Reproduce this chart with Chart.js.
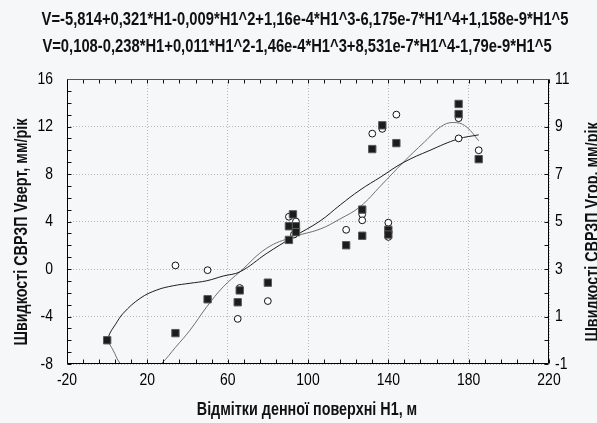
<!DOCTYPE html>
<html>
<head>
<meta charset="utf-8">
<script src="https://cdn.jsdelivr.net/npm/chart.js@4.4.1/dist/chart.umd.min.js"></script>
<style>
  html, body { margin: 0; padding: 0; background: #f5f7f9; }
</style>
</head>
<body>
<canvas id="chartCanvas" width="597" height="423"></canvas>
<script>
// Швидкості СВРЗП проти відміток денної поверхні H1

// Vверт (ліва вісь) – чорні квадрати
const vertX = [0, 34, 50, 65, 66, 80, 90.5, 90.5, 92.5, 94, 94, 119, 127, 127, 140, 140, 132, 137, 144, 175, 175, 185];
const vertY = [-6.0, -5.4, -2.55, -2.8, -1.8, -1.15, 3.6, 2.45, 4.6, 3.6, 3.1, 2.0, 2.8, 5.0, 3.3, 2.9, 10.1, 12.1, 10.6, 13.9, 13.05, 9.25];

// Vгор (права вісь) – порожні кружки
const horX = [0, 34, 50, 65, 66, 80, 90.5, 94, 93, 119, 127, 127, 140, 140, 132, 137, 144, 175, 175, 185];
const horY = [0.0, 3.15, 2.95, 0.9, 2.2, 1.65, 5.2, 5.0, 4.45, 4.65, 5.3, 5.05, 4.95, 4.35, 8.7, 8.9, 9.5, 9.35, 8.5, 8.0];

// Апроксимуючі криві
const fitVertX = [0, 1.4, 4, 8, 16.4, 24.7, 32.9, 41.3, 49.6, 57.8, 66.2, 79.5, 92.5, 106, 116, 125.9, 136.4, 147.3, 160.8, 174.7, 185];
const fitVertY = [-6.0, -5.4, -4.7, -3.73, -2.47, -1.77, -1.41, -1.2, -0.99, -0.59, -0.23, 1.32, 2.69, 4.04, 5.39, 6.65, 7.77, 8.95, 10.0, 10.95, 11.3];
const fitHorX = [0, 2.9, 6.4, 12, 17, 22, 27.2, 34, 41.3, 49.6, 57.8, 66.2, 79.5, 92.5, 106, 116, 125.9, 136.4, 147.3, 158, 167.4, 174.1, 179.1, 185];
const fitHorY = [0.0, -0.41, -0.97, -1.4, -1.5, -1.3, -0.97, -0.3, 0.43, 1.41, 2.25, 2.89, 3.88, 4.35, 4.68, 5.11, 5.62, 6.52, 7.48, 8.35, 9.06, 9.16, 8.97, 8.4];

// Поділки осей
const xTickValues = [-20, 20, 60, 100, 140, 180, 220];
const yLeftTickValues = [-8, -4, 0, 4, 8, 12, 16];
const yRightTickValues = [-1, 1, 3, 5, 7, 9, 11];

const eqVert = 'V=-5,814+0,321*H1-0,009*H1^2+1,16e-4*H1^3-6,175e-7*H1^4+1,158e-9*H1^5';
const eqHor = 'V=0,108-0,238*H1+0,011*H1^2-1,46e-4*H1^3+8,531e-7*H1^4-1,79e-9*H1^5';
const xTitle = 'Відмітки денної поверхні H1, м';
const yLeftTitle = 'Швидкості СВРЗП Vверт, мм/рік';
const yRightTitle = 'Швидкості СВРЗП Vгор, мм/рік';

const BG = '#f5f7f9';
const FAMILY = "'Liberation Sans', Arial, sans-serif";
const SQUEEZE = 0.82; // стиснення як у Arial Narrow

const toPoints = (xs, ys) => xs.map((x, i) => ({ x: x, y: ys[i] }));
const fixTicks = (values) => (scale) => { scale.ticks = values.map(v => ({ value: v })); };

// вузький текст: звичайний шрифт, стиснутий по горизонталі
function narrowText(ctx, text, x, y, font, align, angle) {
  ctx.save();
  ctx.font = font;
  ctx.textAlign = align;
  ctx.textBaseline = 'middle';
  ctx.translate(x, y);
  if (angle) ctx.rotate(angle);
  ctx.scale(SQUEEZE, 1);
  ctx.fillText(text, 0, 0);
  ctx.restore();
}

// фон, рамка, внутрішні поділки і підписи
const framePlugin = {
  id: 'frame',
  beforeDraw(chart) {
    const ctx = chart.ctx;
    ctx.save();
    ctx.fillStyle = BG;
    ctx.fillRect(0, 0, chart.width, chart.height);
    ctx.restore();
  },
  afterDatasetsDraw(chart) {
    const { ctx, chartArea: a, scales } = chart;
    const L = Math.round(a.left) + 0.5, R = Math.round(a.right) - 0.5;
    const T = Math.round(a.top) + 0.5, B = Math.round(a.bottom) - 0.5;
    ctx.save();
    ctx.lineWidth = 1;
    ctx.strokeStyle = '#111';
    ctx.beginPath();
    for (let v = -20; v <= 220; v += 8) {
      const p = Math.round(scales.x.getPixelForValue(v)) + 0.5;
      ctx.moveTo(p, B); ctx.lineTo(p, B - 4);
      ctx.moveTo(p, T); ctx.lineTo(p, T + 4);
    }
    for (let v = -8; v <= 16; v += 1) {
      const p = Math.round(scales.y.getPixelForValue(v)) + 0.5;
      ctx.moveTo(L, p); ctx.lineTo(L + 4, p);
    }
    for (let v = -1; v <= 11; v += 1) {
      const p = Math.round(scales.y1.getPixelForValue(v)) + 0.5;
      ctx.moveTo(R, p); ctx.lineTo(R - 4, p);
    }
    ctx.stroke();
    ctx.strokeStyle = '#000';
    ctx.beginPath();
    ctx.moveTo(L, T); ctx.lineTo(L, B); ctx.lineTo(R, B); ctx.lineTo(R, T);
    ctx.stroke();
    ctx.strokeStyle = '#555';
    ctx.beginPath();
    ctx.moveTo(L, T); ctx.lineTo(R, T);
    ctx.stroke();
    ctx.restore();
  },
  afterDraw(chart) {
    const { ctx, chartArea: a, scales } = chart;
    ctx.save();
    ctx.fillStyle = '#000';
    const tickFont = '17px ' + FAMILY;
    xTickValues.forEach(v => narrowText(ctx, String(v), scales.x.getPixelForValue(v), a.bottom + 16, tickFont, 'center'));
    yLeftTickValues.forEach(v => narrowText(ctx, String(v), a.left - 14, scales.y.getPixelForValue(v), tickFont, 'right'));
    yRightTickValues.forEach(v => narrowText(ctx, String(v), a.right + 6, scales.y1.getPixelForValue(v), tickFont, 'left'));

    ctx.fillStyle = '#111';
    const eqFont = 'bold 18px ' + FAMILY;
    narrowText(ctx, eqVert, 305, 20, eqFont, 'center');
    narrowText(ctx, eqHor, 297, 47, eqFont, 'center');
    const axFont = 'bold 17.5px ' + FAMILY;
    narrowText(ctx, xTitle, 307, 410, axFont, 'center');
    narrowText(ctx, yLeftTitle, 22, 232, axFont, 'center', -Math.PI / 2);
    narrowText(ctx, yRightTitle, 593, 232, axFont, 'center', -Math.PI / 2);
    ctx.restore();
  }
};

new Chart(document.getElementById('chartCanvas'), {
  type: 'scatter',
  data: {
    datasets: [
      {
        label: 'Vверт',
        data: toPoints(vertX, vertY),
        yAxisID: 'y',
        pointStyle: 'rect',
        pointRadius: 5.2,
        backgroundColor: '#1c1c1c',
        borderColor: '#5a5a5a',
        borderWidth: 1
      },
      {
        label: 'Vгор',
        data: toPoints(horX, horY),
        yAxisID: 'y1',
        pointStyle: 'circle',
        pointRadius: 3.4,
        backgroundColor: '#ffffff',
        borderColor: '#111111',
        borderWidth: 1
      },
      {
        type: 'line',
        label: 'fit Vверт',
        data: toPoints(fitVertX, fitVertY),
        yAxisID: 'y',
        borderColor: '#1e1e1e',
        borderWidth: 1,
        pointRadius: 0,
        tension: 0.4,
        fill: false
      },
      {
        type: 'line',
        label: 'fit Vгор',
        data: toPoints(fitHorX, fitHorY),
        yAxisID: 'y1',
        borderColor: '#707070',
        borderWidth: 1,
        pointRadius: 0,
        tension: 0.4,
        fill: false
      }
    ]
  },
  options: {
    responsive: false,
    animation: false,
    layout: { padding: { top: 79, left: 0, right: 0, bottom: 0 } },
    plugins: {
      legend: { display: false },
      tooltip: { enabled: false }
    },
    scales: {
      x: {
        type: 'linear',
        min: -20,
        max: 220,
        afterBuildTicks: fixTicks(xTickValues),
        afterFit: (s) => { s.height = 59; },
        grid: { color: '#b8b8b8', lineWidth: 1, drawTicks: false },
        border: { display: false, dash: [1, 2] },
        ticks: { display: false }
      },
      y: {
        position: 'left',
        min: -8,
        max: 16,
        afterBuildTicks: fixTicks(yLeftTickValues),
        afterFit: (s) => { s.width = 67; },
        grid: { color: '#b8b8b8', lineWidth: 1, drawTicks: false },
        border: { display: false, dash: [1, 2] },
        ticks: { display: false }
      },
      y1: {
        position: 'right',
        min: -1,
        max: 11,
        afterBuildTicks: fixTicks(yRightTickValues),
        afterFit: (s) => { s.width = 48; },
        grid: { display: false, drawTicks: false },
        border: { display: false },
        ticks: { display: false }
      }
    }
  },
  plugins: [framePlugin]
});
</script>
</body>
</html>
